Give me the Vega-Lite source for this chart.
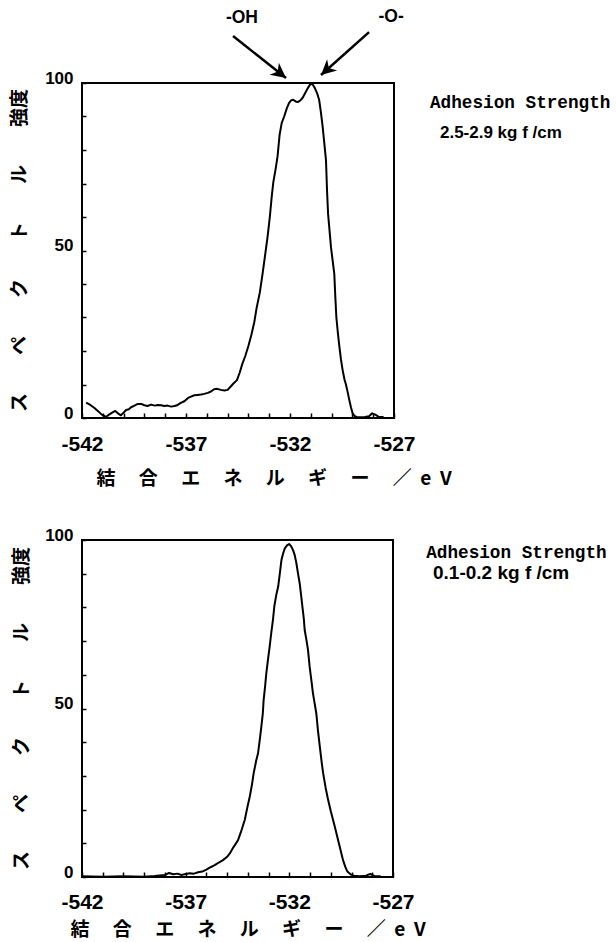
{
  "$schema": "https://vega.github.io/schema/vega-lite/v6.json",
  "background": "white",
  "padding": {"left": 8, "top": 7, "right": 0, "bottom": 0},
  "spacing": 122,
  "bounds": "flush",
  "config": {
    "view": {"stroke": "black", "strokeWidth": 2},
    "font": "Liberation Sans",
    "axis": {
      "domain": false,
      "grid": false,
      "tickColor": "black",
      "tickWidth": 1.5,
      "labelColor": "black",
      "titleColor": "black",
      "labelFont": "Liberation Sans",
      "labelFontWeight": "bold",
      "labelOverlap": false,
      "labelFlush": false
    }
  },
  "datasets": {
    "top": [
      {"eV": -541.8, "intensity": 4.6}, {"eV": -541.6, "intensity": 3.9}, {"eV": -541.4, "intensity": 3.0},
      {"eV": -541.2, "intensity": 1.9}, {"eV": -541.05, "intensity": 1.0}, {"eV": -540.85, "intensity": 0.3},
      {"eV": -540.7, "intensity": 1.0}, {"eV": -540.55, "intensity": 1.6}, {"eV": -540.4, "intensity": 2.1},
      {"eV": -540.25, "intensity": 1.3}, {"eV": -540.13, "intensity": 0.8}, {"eV": -540.0, "intensity": 1.6},
      {"eV": -539.88, "intensity": 2.4}, {"eV": -539.75, "intensity": 2.6}, {"eV": -539.64, "intensity": 3.2},
      {"eV": -539.5, "intensity": 3.6}, {"eV": -539.32, "intensity": 4.2}, {"eV": -539.15, "intensity": 4.2},
      {"eV": -539.0, "intensity": 3.8}, {"eV": -538.85, "intensity": 3.6}, {"eV": -538.68, "intensity": 4.0},
      {"eV": -538.5, "intensity": 3.7}, {"eV": -538.36, "intensity": 3.9}, {"eV": -538.2, "intensity": 3.8},
      {"eV": -538.04, "intensity": 3.6}, {"eV": -537.88, "intensity": 3.7}, {"eV": -537.72, "intensity": 3.4},
      {"eV": -537.55, "intensity": 3.6}, {"eV": -537.4, "intensity": 3.9}, {"eV": -537.25, "intensity": 4.5},
      {"eV": -537.08, "intensity": 5.0}, {"eV": -536.9, "intensity": 6.0}, {"eV": -536.76, "intensity": 6.4},
      {"eV": -536.6, "intensity": 6.8}, {"eV": -536.44, "intensity": 6.9}, {"eV": -536.28, "intensity": 7.0},
      {"eV": -536.12, "intensity": 7.2}, {"eV": -535.95, "intensity": 7.5}, {"eV": -535.8, "intensity": 7.9},
      {"eV": -535.65, "intensity": 8.6}, {"eV": -535.5, "intensity": 8.7}, {"eV": -535.32, "intensity": 8.4},
      {"eV": -535.15, "intensity": 8.2}, {"eV": -535.0, "intensity": 8.4}, {"eV": -534.85, "intensity": 9.4},
      {"eV": -534.72, "intensity": 10.3}, {"eV": -534.55, "intensity": 11.3}, {"eV": -534.42, "intensity": 13.5},
      {"eV": -534.3, "intensity": 16.0}, {"eV": -534.15, "intensity": 18.5}, {"eV": -534.0, "intensity": 21.5},
      {"eV": -533.85, "intensity": 25.0}, {"eV": -533.72, "intensity": 28.5}, {"eV": -533.6, "intensity": 33.0},
      {"eV": -533.45, "intensity": 37.5}, {"eV": -533.32, "intensity": 43.0}, {"eV": -533.2, "intensity": 48.5},
      {"eV": -533.08, "intensity": 54.0}, {"eV": -532.97, "intensity": 60.0}, {"eV": -532.88, "intensity": 66.0},
      {"eV": -532.8, "intensity": 70.5}, {"eV": -532.7, "intensity": 74.0}, {"eV": -532.6, "intensity": 78.0},
      {"eV": -532.5, "intensity": 84.5}, {"eV": -532.4, "intensity": 88.0}, {"eV": -532.28, "intensity": 90.0},
      {"eV": -532.15, "intensity": 92.5}, {"eV": -532.05, "intensity": 94.0}, {"eV": -531.95, "intensity": 94.8},
      {"eV": -531.85, "intensity": 95.0}, {"eV": -531.73, "intensity": 94.5}, {"eV": -531.63, "intensity": 94.3},
      {"eV": -531.5, "intensity": 94.8}, {"eV": -531.39, "intensity": 95.6}, {"eV": -531.27, "intensity": 97.0},
      {"eV": -531.15, "intensity": 98.4}, {"eV": -531.05, "intensity": 99.4}, {"eV": -530.98, "intensity": 99.8},
      {"eV": -530.9, "intensity": 99.5}, {"eV": -530.8, "intensity": 98.4}, {"eV": -530.7, "intensity": 97.0},
      {"eV": -530.6, "intensity": 95.0}, {"eV": -530.52, "intensity": 91.5}, {"eV": -530.43, "intensity": 87.0},
      {"eV": -530.35, "intensity": 82.0}, {"eV": -530.27, "intensity": 77.0}, {"eV": -530.22, "intensity": 68.0},
      {"eV": -530.17, "intensity": 61.0}, {"eV": -530.1, "intensity": 56.0}, {"eV": -530.03, "intensity": 51.0},
      {"eV": -529.95, "intensity": 47.0}, {"eV": -529.87, "intensity": 43.0}, {"eV": -529.82, "intensity": 36.0},
      {"eV": -529.77, "intensity": 30.0}, {"eV": -529.7, "intensity": 25.5}, {"eV": -529.63, "intensity": 21.5},
      {"eV": -529.55, "intensity": 17.5}, {"eV": -529.47, "intensity": 14.3}, {"eV": -529.38, "intensity": 11.5},
      {"eV": -529.31, "intensity": 10.0}, {"eV": -529.22, "intensity": 7.5}, {"eV": -529.15, "intensity": 5.4},
      {"eV": -529.07, "intensity": 3.2}, {"eV": -528.99, "intensity": 1.4}, {"eV": -528.9, "intensity": 0.6},
      {"eV": -528.8, "intensity": 0.3}, {"eV": -528.6, "intensity": 0.2}, {"eV": -528.4, "intensity": 0.3},
      {"eV": -528.2, "intensity": 0.5}, {"eV": -528.05, "intensity": 1.4}, {"eV": -527.9, "intensity": 1.0},
      {"eV": -527.75, "intensity": 0.4}, {"eV": -527.5, "intensity": 0.3}
    ],
    "bottom": [
      {"eV": -542.0, "intensity": 0.2}, {"eV": -541.0, "intensity": 0.1}, {"eV": -540.0, "intensity": 0.2},
      {"eV": -539.0, "intensity": 0.1}, {"eV": -538.5, "intensity": 0.3}, {"eV": -538.0, "intensity": 0.6},
      {"eV": -537.8, "intensity": 1.2}, {"eV": -537.6, "intensity": 0.8}, {"eV": -537.4, "intensity": 1.0},
      {"eV": -537.2, "intensity": 0.6}, {"eV": -537.0, "intensity": 0.9}, {"eV": -536.8, "intensity": 1.1},
      {"eV": -536.6, "intensity": 1.0}, {"eV": -536.4, "intensity": 1.4}, {"eV": -536.2, "intensity": 1.6},
      {"eV": -536.0, "intensity": 2.2}, {"eV": -535.8, "intensity": 2.9}, {"eV": -535.6, "intensity": 3.5},
      {"eV": -535.4, "intensity": 4.3}, {"eV": -535.2, "intensity": 5.0}, {"eV": -535.0, "intensity": 6.0},
      {"eV": -534.87, "intensity": 7.0}, {"eV": -534.7, "intensity": 8.8}, {"eV": -534.47, "intensity": 11.0},
      {"eV": -534.3, "intensity": 14.0}, {"eV": -534.15, "intensity": 16.9}, {"eV": -534.03, "intensity": 20.5},
      {"eV": -533.91, "intensity": 23.8}, {"eV": -533.8, "intensity": 27.5}, {"eV": -533.72, "intensity": 30.8},
      {"eV": -533.6, "intensity": 34.5}, {"eV": -533.51, "intensity": 36.7}, {"eV": -533.42, "intensity": 41.0},
      {"eV": -533.35, "intensity": 44.6}, {"eV": -533.28, "intensity": 48.5}, {"eV": -533.24, "intensity": 52.5},
      {"eV": -533.17, "intensity": 56.5}, {"eV": -533.11, "intensity": 60.4}, {"eV": -533.03, "intensity": 64.5},
      {"eV": -532.95, "intensity": 68.3}, {"eV": -532.87, "intensity": 72.5}, {"eV": -532.79, "intensity": 76.3},
      {"eV": -532.72, "intensity": 80.5}, {"eV": -532.62, "intensity": 84.0}, {"eV": -532.54, "intensity": 86.1},
      {"eV": -532.45, "intensity": 90.5}, {"eV": -532.38, "intensity": 94.1}, {"eV": -532.3, "intensity": 96.0},
      {"eV": -532.22, "intensity": 97.5}, {"eV": -532.1, "intensity": 98.5}, {"eV": -532.01, "intensity": 98.8},
      {"eV": -531.92, "intensity": 98.2}, {"eV": -531.82, "intensity": 97.0}, {"eV": -531.74, "intensity": 95.5},
      {"eV": -531.66, "intensity": 93.1}, {"eV": -531.58, "intensity": 90.0}, {"eV": -531.5, "intensity": 87.1},
      {"eV": -531.43, "intensity": 83.5}, {"eV": -531.37, "intensity": 80.2}, {"eV": -531.3, "intensity": 76.5},
      {"eV": -531.26, "intensity": 73.3}, {"eV": -531.18, "intensity": 70.5}, {"eV": -531.1, "intensity": 67.4},
      {"eV": -531.02, "intensity": 62.4}, {"eV": -530.94, "intensity": 58.5}, {"eV": -530.86, "intensity": 54.5},
      {"eV": -530.78, "intensity": 51.5}, {"eV": -530.7, "intensity": 48.6}, {"eV": -530.62, "intensity": 43.5},
      {"eV": -530.53, "intensity": 38.7}, {"eV": -530.45, "intensity": 34.5}, {"eV": -530.37, "intensity": 30.8},
      {"eV": -530.25, "intensity": 26.5}, {"eV": -530.13, "intensity": 22.9}, {"eV": -530.0, "intensity": 19.5},
      {"eV": -529.89, "intensity": 16.9}, {"eV": -529.77, "intensity": 14.0}, {"eV": -529.65, "intensity": 11.0},
      {"eV": -529.53, "intensity": 8.0}, {"eV": -529.41, "intensity": 5.0}, {"eV": -529.3, "intensity": 3.0},
      {"eV": -529.2, "intensity": 1.6}, {"eV": -529.05, "intensity": 0.8}, {"eV": -528.9, "intensity": 0.4},
      {"eV": -528.6, "intensity": 0.2}, {"eV": -528.3, "intensity": 0.4}, {"eV": -528.1, "intensity": 0.9},
      {"eV": -527.9, "intensity": 0.3}, {"eV": -527.6, "intensity": 0.2}
    ]
  },
  "vconcat": [
    {
      "width": 312,
      "height": 335,
      "resolve": {"axis": {"x": "independent", "y": "independent"}},
      "layer": [
        {
          "data": {"name": "top"},
          "mark": {"type": "line", "color": "black", "strokeWidth": 2, "strokeJoin": "round"},
          "encoding": {
            "x": {
              "field": "eV", "type": "quantitative",
              "scale": {"domain": [-542, -527], "nice": false, "zero": false},
              "axis": {
                "orient": "bottom",
                "values": [-542, -537, -532, -527],
                "labelExpr": "toString(datum.value)",
                "labelOverlap": false, "labelFlush": false, "ticks": false,
                "labelPadding": 15, "labelFontSize": 21,
                "title": "結　 合　 エ　 ネ　 ル　 ギ　 ー　 ／\u00a0\u00a0e\u00a0\u00a0V",
                "titleFont": "Noto Sans CJK JP", "titleFontSize": 19, "titleFontWeight": "bold",
                "titleX": 14, "titleY": 60, "titleAlign": "left", "titleBaseline": "middle"
              }
            },
            "y": {
              "field": "intensity", "type": "quantitative",
              "scale": {"domain": [0, 100], "nice": false},
              "axis": {
                "orient": "left",
                "values": [0, 50, 100],
                "labelExpr": "toString(datum.value)",
                "labelOverlap": false, "ticks": false,
                "labelPadding": 9, "labelFontSize": 17, "labelBaseline": "alphabetic",
                "title": "ス　　ペ　　ク　　ト　　ル　　強度",
                "titleFont": "Noto Sans CJK JP", "titleFontSize": 19, "titleFontWeight": "bold",
                "titleX": -63, "titleY": 167, "titleAngle": 270, "titleAlign": "center", "titleBaseline": "middle"
              }
            }
          }
        },
        {
          "data": {"values": [{}]},
          "mark": {"type": "point", "opacity": 0},
          "encoding": {
            "x": {
              "datum": -542, "type": "quantitative",
              "axis": {
                "orient": "top", "offset": -335, "tickSize": 5, "labels": false, "title": null, "domain": false,
                "values": [-542, -541, -540, -539, -538, -537, -536, -535, -534, -533, -532, -531, -530, -529, -528, -527]
              }
            },
            "y": {
              "datum": 0, "type": "quantitative",
              "axis": {
                "orient": "right", "offset": -312, "tickSize": 4, "labels": false, "title": null, "domain": false,
                "values": [0, 10, 20, 30, 40, 50, 60, 70, 80, 90, 100]
              }
            }
          }
        },
        {
          "data": {"values": [{}]},
          "mark": {"type": "rule", "color": "black", "strokeWidth": 2.5},
          "encoding": {
            "x": {"datum": -534.74, "type": "quantitative", "axis": null},
            "y": {"datum": 114.0, "type": "quantitative", "axis": null},
            "x2": {"datum": -532.19},
            "y2": {"datum": 101.5}
          }
        },
        {
          "data": {"values": [{}]},
          "mark": {"type": "rule", "color": "black", "strokeWidth": 2.5},
          "encoding": {
            "x": {"datum": -528.2, "type": "quantitative", "axis": null},
            "y": {"datum": 115.2, "type": "quantitative", "axis": null},
            "x2": {"datum": -530.51},
            "y2": {"datum": 102.4}
          }
        },
        {
          "data": {"values": [{}]},
          "mark": {"type": "point", "shape": "M0,0 L-0.5,1 L0,0.7 L0.5,1 Z", "filled": true, "color": "black", "opacity": 1, "size": 900, "angle": 128},
          "encoding": {
            "x": {"datum": -532.19, "type": "quantitative", "axis": null},
            "y": {"datum": 101.5, "type": "quantitative", "axis": null}
          }
        },
        {
          "data": {"values": [{}]},
          "mark": {"type": "point", "shape": "M0,0 L-0.5,1 L0,0.7 L0.5,1 Z", "filled": true, "color": "black", "opacity": 1, "size": 900, "angle": 228},
          "encoding": {
            "x": {"datum": -530.51, "type": "quantitative", "axis": null},
            "y": {"datum": 102.4, "type": "quantitative", "axis": null}
          }
        },
        {
          "data": {"values": [{}]},
          "mark": {"type": "text", "text": "-OH", "font": "Liberation Sans", "fontWeight": "bold", "fontSize": 17.5, "color": "black", "align": "center", "baseline": "middle"},
          "encoding": {
            "x": {"datum": -534.31, "type": "quantitative", "axis": null},
            "y": {"datum": 119.4, "type": "quantitative", "axis": null}
          }
        },
        {
          "data": {"values": [{}]},
          "mark": {"type": "text", "text": "-O-", "font": "Liberation Sans", "fontWeight": "bold", "fontSize": 17.5, "color": "black", "align": "center", "baseline": "middle"},
          "encoding": {
            "x": {"datum": -527.14, "type": "quantitative", "axis": null},
            "y": {"datum": 119.7, "type": "quantitative", "axis": null}
          }
        },
        {
          "data": {"values": [{}]},
          "mark": {"type": "text", "text": "Adhesion Strength", "font": "Liberation Mono", "fontWeight": "bold", "fontSize": 17.7, "color": "black", "align": "left", "baseline": "middle"},
          "encoding": {
            "x": {"datum": -525.27, "type": "quantitative", "axis": null},
            "y": {"datum": 94.0, "type": "quantitative", "axis": null}
          }
        },
        {
          "data": {"values": [{}]},
          "mark": {"type": "text", "text": "2.5-2.9 kg f /cm", "font": "Liberation Sans", "fontWeight": "bold", "fontSize": 17, "color": "black", "align": "left", "baseline": "middle"},
          "encoding": {
            "x": {"datum": -524.79, "type": "quantitative", "axis": null},
            "y": {"datum": 85.1, "type": "quantitative", "axis": null}
          }
        }
      ]
    },
    {
      "width": 311,
      "height": 337,
      "resolve": {"axis": {"x": "independent", "y": "independent"}},
      "layer": [
        {
          "data": {"name": "bottom"},
          "mark": {"type": "line", "color": "black", "strokeWidth": 2, "strokeJoin": "round"},
          "encoding": {
            "x": {
              "field": "eV", "type": "quantitative",
              "scale": {"domain": [-542, -527], "nice": false, "zero": false},
              "axis": {
                "orient": "bottom",
                "values": [-542, -537, -532, -527],
                "labelExpr": "toString(datum.value)",
                "labelOverlap": false, "labelFlush": false, "ticks": false,
                "labelPadding": 14, "labelFontSize": 21,
                "title": "結　 合　 エ　 ネ　 ル　 ギ　 ー　 ／\u00a0\u00a0e\u00a0\u00a0V",
                "titleFont": "Noto Sans CJK JP", "titleFontSize": 19, "titleFontWeight": "bold",
                "titleX": -12, "titleY": 52, "titleAlign": "left", "titleBaseline": "middle"
              }
            },
            "y": {
              "field": "intensity", "type": "quantitative",
              "scale": {"domain": [0, 100], "nice": false},
              "axis": {
                "orient": "left",
                "values": [0, 50, 100],
                "labelExpr": "toString(datum.value)",
                "labelOverlap": false, "ticks": false,
                "labelPadding": 9, "labelFontSize": 17, "labelBaseline": "alphabetic",
                "title": "ス　　ペ　　ク　　ト　　ル　　強度",
                "titleFont": "Noto Sans CJK JP", "titleFontSize": 19, "titleFontWeight": "bold",
                "titleX": -61, "titleY": 168, "titleAngle": 270, "titleAlign": "center", "titleBaseline": "middle"
              }
            }
          }
        },
        {
          "data": {"values": [{}]},
          "mark": {"type": "point", "opacity": 0},
          "encoding": {
            "x": {
              "datum": -542, "type": "quantitative",
              "axis": {
                "orient": "top", "offset": -337, "tickSize": 5, "labels": false, "title": null, "domain": false,
                "values": [-542, -541, -540, -539, -538, -537, -536, -535, -534, -533, -532, -531, -530, -529, -528, -527]
              }
            },
            "y": {
              "datum": 0, "type": "quantitative",
              "axis": {
                "orient": "right", "offset": -311, "tickSize": 4, "labels": false, "title": null, "domain": false,
                "values": [0, 10, 20, 30, 40, 50, 60, 70, 80, 90, 100]
              }
            }
          }
        },
        {
          "data": {"values": [{}]},
          "mark": {"type": "text", "text": "Adhesion Strength", "font": "Liberation Mono", "fontWeight": "bold", "fontSize": 17.7, "color": "black", "align": "left", "baseline": "middle"},
          "encoding": {
            "x": {"datum": -525.4, "type": "quantitative", "axis": null},
            "y": {"datum": 96.1, "type": "quantitative", "axis": null}
          }
        },
        {
          "data": {"values": [{}]},
          "mark": {"type": "text", "text": "0.1-0.2 kg f /cm", "font": "Liberation Sans", "fontWeight": "bold", "fontSize": 19, "color": "black", "align": "left", "baseline": "middle"},
          "encoding": {
            "x": {"datum": -525.07, "type": "quantitative", "axis": null},
            "y": {"datum": 90.2, "type": "quantitative", "axis": null}
          }
        }
      ]
    }
  ]
}
